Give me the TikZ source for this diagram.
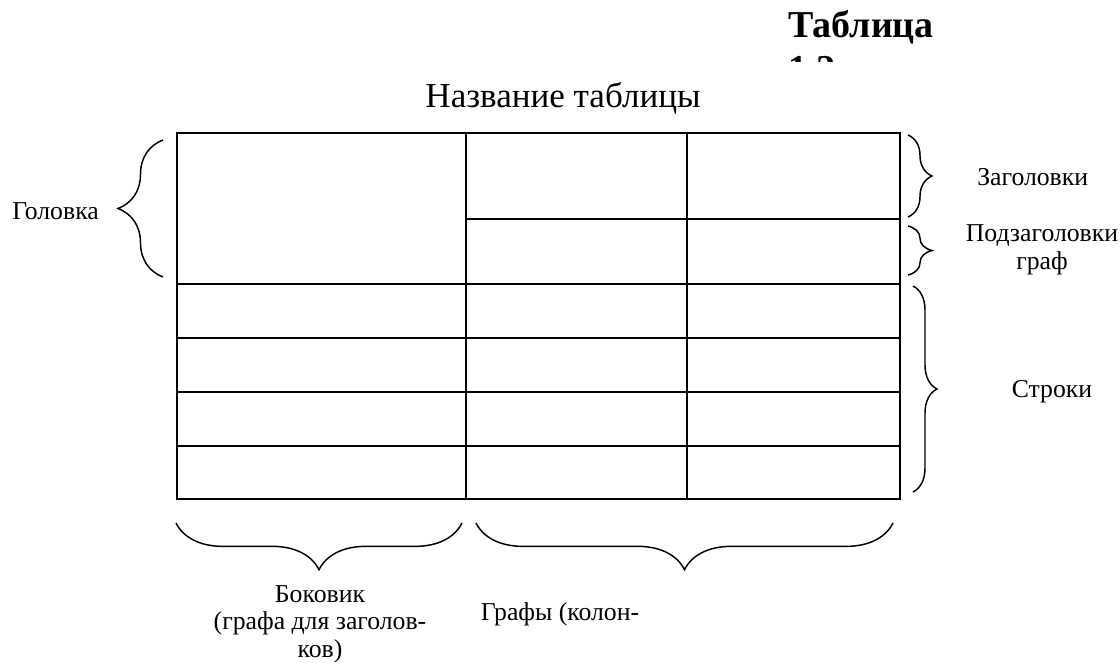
\documentclass[tikz,border=0pt]{standalone}
\usepackage{fontspec}
\setmainfont{Liberation Serif}
\usetikzlibrary{decorations.pathreplacing}
\begin{document}
\begin{tikzpicture}[x=0.75pt,y=-0.75pt,
  grid/.style={line width=1.5pt},
  brc/.style={line width=1.1pt,decorate,decoration={brace,amplitude=#1}},
  lbl/.style={inner sep=0pt,font=\fontsize{19.3}{20.5}\selectfont,align=center},
  ttl/.style={inner sep=0pt,font=\fontsize{26.3}{30}\selectfont},
  hdr/.style={inner sep=0pt,font=\fontsize{28.5}{32.5}\selectfont\bfseries,align=left}]
\useasboundingbox (0,0) rectangle (1120,662);
% header text (second line cut off as in the original)
\begin{scope}
\clip (780,0) rectangle (960,61);
\node[hdr,anchor=base west] (tabnum) at (788,81) {Таблица\\1.2};
\end{scope}
\node[ttl,anchor=base] (title) at (563,107) {Название таблицы};
% table
\coordinate (tl) at (177,133);
\coordinate (br) at (900,499);
\draw[grid] (tl) rectangle (br);
\draw[grid] (466,133) -- (466,499);
\draw[grid] (687,133) -- (687,499);
\draw[grid] (466,219) -- (900,219);
\foreach \yy in {284,338,392,446}{\draw[grid] (177,\yy) -- (900,\yy);}
% braces
\draw[brc=33.75pt] (163,277) -- (163,140);
\draw[brc=18pt] (908,135) -- (908,217);
\draw[brc=18pt] (908,226) -- (908,275);
\draw[brc=18pt] (913,286) -- (913,492);
\draw[brc=35pt] (462,523) -- (176,523);
\draw[brc=35pt] (893,523) -- (476,523);
% labels
\node[lbl,anchor=base west] (golovka) at (12,219) {Головка};
\node[lbl,anchor=base west] (zag) at (977,185) {Заголовки};
\node[lbl,anchor=base] (podzag) at (1042,269) {Подзаголовки\\граф};
\node[lbl,anchor=base] (stroki) at (1052,397) {Строки};
\node[lbl,anchor=base] (bokovik) at (320,657) {Боковик\\(графа для заголов-\\ков)};
\node[lbl,anchor=base] (grafy) at (560,620) {Графы (колон-};
\end{tikzpicture}
\end{document}
